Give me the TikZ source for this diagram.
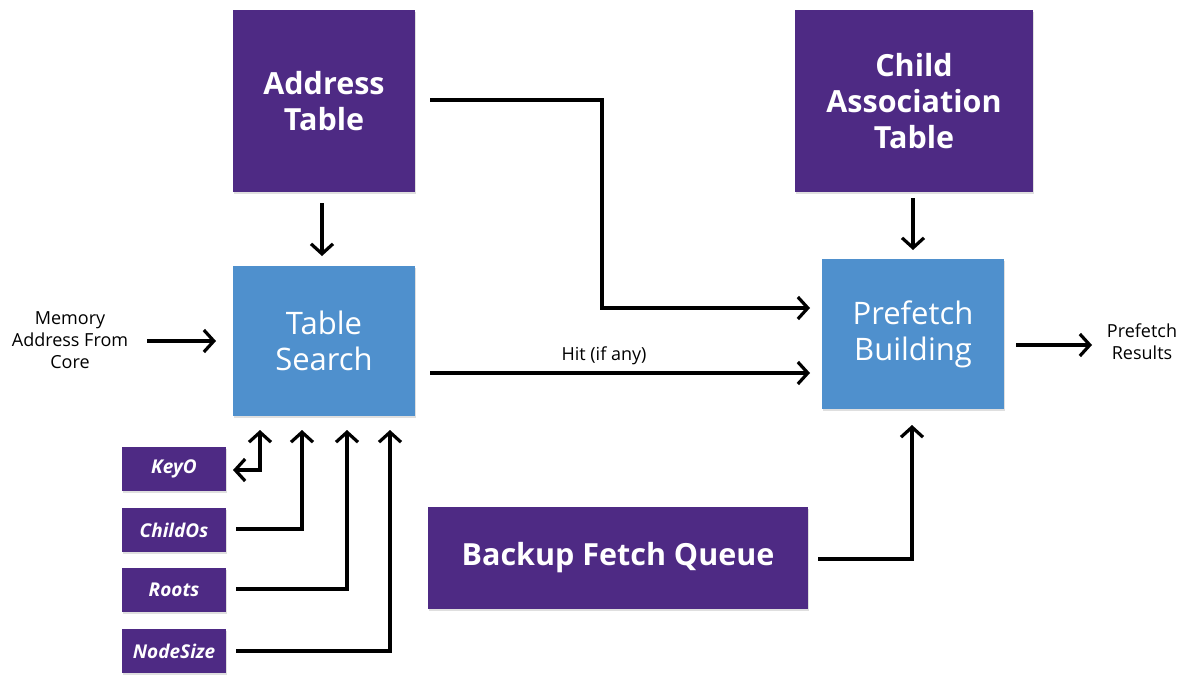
\documentclass[tikz,border=0pt]{standalone}
\usepackage{fontspec}
\setmainfont{Open Sans}
\usetikzlibrary{arrows.meta,shadows}
\definecolor{purp}{HTML}{4E2A84}
\definecolor{lblue}{HTML}{4F90CD}
\tikzset{
  pbox/.style={fill=purp,text=white,font=\bfseries\fontsize{30.5}{36}\selectfont,align=center,inner sep=0,drop shadow={shadow xshift=1pt,shadow yshift=-2pt,opacity=0.25}},
  bbox/.style={fill=lblue,text=white,font=\fontsize{31}{36}\selectfont,align=center,inner sep=0,drop shadow={shadow xshift=1pt,shadow yshift=-2pt,opacity=0.25}},
  sbox/.style={fill=purp,text=white,font=\bfseries\itshape\fontsize{19}{22}\selectfont,inner sep=0,minimum width=104pt,minimum height=44pt,drop shadow={shadow xshift=1pt,shadow yshift=-2pt,opacity=0.25}},
  lbl/.style={font=\fontsize{18}{22}\selectfont,align=center,inner sep=0},
  arr/.style={line width=3.2pt,-{Straight Barb[length=10pt,width=22pt,line width=3.2pt]}},
  darr/.style={line width=3.2pt,{Straight Barb[length=10pt,width=22pt,line width=3.2pt]}-{Straight Barb[length=10pt,width=22pt,line width=3.2pt]}}
}
\begin{document}
\begin{tikzpicture}[x=1pt,y=-1pt]
\useasboundingbox[fill=white] (0,0) rectangle (1183,675);
\node[pbox,minimum width=182pt,minimum height=182pt] (at) at (324,101) {Address\\Table};
\node[pbox,minimum width=238pt,minimum height=182pt] (ct) at (914,101) {Child\\Association\\Table};
\node[bbox,minimum width=182pt,minimum height=150pt] (ts) at (324,341) {Table\\Search};
\node[bbox,minimum width=182pt,minimum height=150pt] (pb) at (913,334) {Prefetch\\Building};
\node[pbox,minimum width=380pt,minimum height=102pt] (bq) at (618,558) {Backup Fetch Queue};
\node[sbox] (k) at (174,469) {KeyO};
\node[sbox] (c) at (174,530) {ChildOs};
\node[sbox] (r) at (174,590) {Roots};
\node[sbox] (n) at (174,651) {NodeSize};
\node[lbl] (mem) at (70,340) {Memory\\Address From\\Core};
\node[lbl] (res) at (1142,342) {Prefetch\\Results};
\node[lbl] (hit) at (604,356) {Hit (if any)};

\coordinate (a1) at (322,203); \coordinate (a2) at (322,256);
\draw[arr] (a1) -- (a2);
\coordinate (c1) at (913,198); \coordinate (c2) at (913,250);
\draw[arr] (c1) -- (c2);
\coordinate (m1) at (147,341); \coordinate (m2) at (216,341);
\draw[arr] (m1) -- (m2);
\coordinate (h1) at (430,373); \coordinate (h2) at (810,373);
\draw[arr] (h1) -- (h2);
\coordinate (p1) at (1016,345); \coordinate (p2) at (1092,345);
\draw[arr] (p1) -- (p2);
\coordinate (t1) at (430,100); \coordinate (t2) at (810,308);
\draw[arr] (t1) -- (602,100) -- (602,308) -- (t2);
\coordinate (b1) at (818,559); \coordinate (b2) at (912,425);
\draw[arr] (b1) -| (b2);
\coordinate (k1) at (233,470); \coordinate (k2) at (260,430);
\draw[darr] (k1) -| (k2);
\coordinate (co1) at (236,529); \coordinate (co2) at (302,430);
\draw[arr] (co1) -| (co2);
\coordinate (r1) at (236,589); \coordinate (r2) at (347,430);
\draw[arr] (r1) -| (r2);
\coordinate (n1) at (236,651); \coordinate (n2) at (390,430);
\draw[arr] (n1) -| (n2);
\end{tikzpicture}
\end{document}
